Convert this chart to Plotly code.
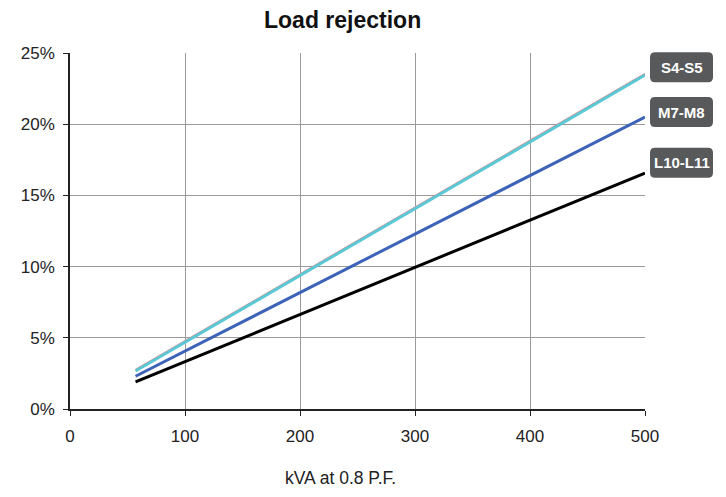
import plotly.graph_objects as go

series_names = ["S4-S5", "M7-M8", "L10-L11"]
kva = [57, 500]
s4_s5 = [2.67, 23.45]
m7_m8 = [2.30, 20.5]
l10_l11 = [1.90, 16.57]
colors = ["#5bc8d6", "#3d63b8", "#000000"]
label_y = [24.0, 20.85, 17.3]
x_ticks = [0, 100, 200, 300, 400, 500]
y_ticks = [0, 5, 10, 15, 20, 25]

OFF = 8  # browser body margin
W, H = 726 - 2 * OFF, 497 - 2 * OFF
L, T = 70 - OFF, 53 - OFF
R = W - (645 - OFF)
B = H - (409 - OFF)
pw, ph = W - L - R, H - T - B
FONT = "Liberation Sans, Arial, sans-serif"

fig = go.Figure()
fig.add_trace(go.Scatter(x=kva, y=[v + 0.08 for v in s4_s5], mode="lines",
                         line=dict(color="#e08a8a", width=2), showlegend=False, hoverinfo="skip"))
for name, ys, c in zip(series_names, [s4_s5, m7_m8, l10_l11], colors):
    fig.add_trace(go.Scatter(x=kva, y=ys, mode="lines", name=name,
                             line=dict(color=c, width=3), showlegend=False))

def X(px):  # reference pixel -> paper
    return (px - OFF - L) / pw

def Y(py):
    return (H - B - (py - OFF)) / ph

shapes = []
annotations = []
for name, ly in zip(series_names, label_y):
    cy = 409 - ly / 25 * 356
    x0, x1 = 650, 713
    y0, y1 = cy - 15, cy + 15
    r = 5
    path = (f"M {X(x0+r)},{Y(y0)} L {X(x1-r)},{Y(y0)} Q {X(x1)},{Y(y0)} {X(x1)},{Y(y0+r)} "
            f"L {X(x1)},{Y(y1-r)} Q {X(x1)},{Y(y1)} {X(x1-r)},{Y(y1)} "
            f"L {X(x0+r)},{Y(y1)} Q {X(x0)},{Y(y1)} {X(x0)},{Y(y1-r)} "
            f"L {X(x0)},{Y(y0+r)} Q {X(x0)},{Y(y0)} {X(x0+r)},{Y(y0)} Z")
    shapes.append(dict(type="path", xref="paper", yref="paper", path=path,
                       fillcolor="#58595b", line=dict(width=0), layer="above"))
    annotations.append(dict(x=X((x0 + x1) / 2), y=Y(cy), xref="paper", yref="paper",
                            text=f"<b>{name}</b>", showarrow=False,
                            font=dict(family=FONT, size=15, color="white"),
                            xanchor="center", yanchor="middle"))

annotations.append(dict(x=X(340), y=Y(478), xref="paper", yref="paper",
                        text="kVA at 0.8 P.F.", showarrow=False,
                        font=dict(family=FONT, size=17.5, color="#222"),
                        xanchor="center", yanchor="middle"))
annotations.append(dict(x=X(342), y=Y(20), xref="paper", yref="paper",
                        text="<b>Load rejection</b>", showarrow=False,
                        font=dict(family=FONT, size=23, color="#111"),
                        xanchor="center", yanchor="middle"))

fig.update_layout(
    width=W, height=H,
    margin=dict(l=L, r=R, t=T, b=B),
    plot_bgcolor="white", paper_bgcolor="white",
    font=dict(family=FONT, size=17, color="#222"),
    shapes=shapes, annotations=annotations,
    xaxis=dict(range=[0, 500], tickvals=x_ticks, showgrid=True, gridcolor="#9a9a9a", gridwidth=1,
               showline=True, linecolor="#222", linewidth=1.5, ticks="outside", ticklen=5,
               tickcolor="#222", zeroline=False, fixedrange=True, ticklabelstandoff=6),
    yaxis=dict(range=[0, 25], tickvals=y_ticks, ticktext=[f"{v}%" for v in y_ticks],
               showgrid=True, gridcolor="#9a9a9a", gridwidth=1,
               showline=True, linecolor="#222", linewidth=1.5, ticks="outside", ticklen=5,
               tickcolor="#222", zeroline=False, fixedrange=True, ticklabelstandoff=5),
)

fig.write_html("out.html")
